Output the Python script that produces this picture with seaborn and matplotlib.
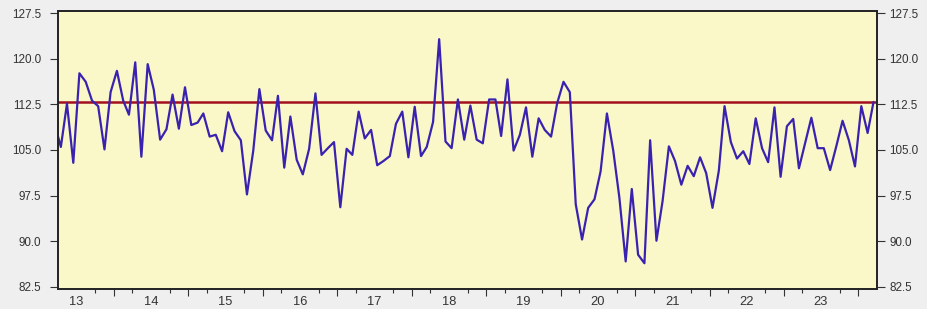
import numpy as np
import pandas as pd
import matplotlib
matplotlib.use("Agg")
import matplotlib.pyplot as plt
import matplotlib.dates as mdates
import seaborn as sns

# monthly index, first value is March 2013 (clipped at the left frame)
values = [
    109.3,
    105.5, 112.6, 102.9, 117.6, 116.2, 113.1, 112.2, 105.1, 114.5, 118.0,
    113.1, 110.8, 119.4, 103.9, 119.1, 114.9, 106.7, 108.4, 114.1, 108.5,
    115.3, 109.1, 109.5, 111.0, 107.2, 107.5, 104.8, 111.2, 108.1, 106.6,
    97.7, 104.9, 115.0, 108.2, 106.6, 113.9, 102.1, 110.5, 103.4, 101.0,
    105.2, 114.3, 104.2, 105.3, 106.3, 95.6, 105.2, 104.2, 111.3, 106.9,
    108.3, 102.5, 103.2, 104.0, 109.3, 111.3, 103.8, 112.1, 104.0, 105.5,
    109.6, 123.2, 106.4, 105.3, 113.3, 106.7, 112.3, 106.7, 106.1, 113.3,
    113.3, 107.3, 116.6, 104.9, 107.5, 112.0, 103.9, 110.2, 108.3, 107.2,
    112.7, 116.2, 114.5, 96.1, 90.3, 95.5, 96.9, 101.5, 111.0, 104.9,
    97.2, 86.7, 98.6, 87.8, 86.4, 106.6, 90.1, 96.6, 105.6, 103.2,
    99.3, 102.4, 100.7, 103.8, 101.2, 95.5, 101.6, 112.2, 106.3, 103.6,
    104.8, 102.7, 110.2, 105.3, 103.0, 112.0, 100.6, 108.9, 110.1, 102.0,
    106.2, 110.3, 105.3, 105.3, 101.7, 105.7, 109.8, 106.6, 102.3, 112.2,
    107.8, 112.9,
]
ref_level = 112.9
years = list(range(2013, 2024))
year_labels = [str(y)[2:] for y in years]
y_ticks = [82.5, 90.0, 97.5, 105.0, 112.5, 120.0, 127.5]

months = pd.date_range("2013-03-01", periods=len(values), freq="MS") + pd.Timedelta(days=14)
df = pd.DataFrame({"x": mdates.date2num(months), "value": values})

sns.set_style("ticks")
plt.rcParams["font.family"] = ["Liberation Sans", "DejaVu Sans"]

fig = plt.figure(figsize=(9.27, 3.09), dpi=100, facecolor="#efefef")
ax = fig.add_axes([58 / 927, 20 / 309, 819 / 927, 278 / 309])
ax.set_facecolor("#faf8c8")

ax.axhline(ref_level, color="#a3101e", lw=1.8, zorder=2)
sns.lineplot(data=df, x="x", y="value", ax=ax, color="#3a22b0", lw=1.6, zorder=3)
ax.set_xlabel("")
ax.set_ylabel("")

# y axis on both sides
ax.set_yticks(y_ticks)
ax.set_yticklabels([f"{t:.1f}" for t in y_ticks])
ax.tick_params(axis="y", length=6, width=0.8, pad=6, labelsize=8.4, colors="#333333")

# x axis: long ticks at year boundaries, short at Apr/Oct, labels mid-year
year_starts = [mdates.date2num(pd.Timestamp(f"{y}-01-01")) for y in range(2014, 2025)]
quarters = [mdates.date2num(pd.Timestamp(f"{y}-{m:02d}-01")) for y in range(2013, 2024) for m in (4, 10)]
ax.set_xticks(year_starts)
ax.set_xticklabels([])
ax.set_xticks(quarters[1:], minor=True)
ax.tick_params(axis="x", which="major", length=5, width=0.8, color="#333333")
ax.tick_params(axis="x", which="minor", length=3, width=0.8, color="#333333")

ax.set_xlim(mdates.date2num(pd.Timestamp("2013-04-01")), mdates.date2num(pd.Timestamp("2024-04-01")))
ax.set_ylim(82.17, 127.83)

ax2 = ax.twinx()
ax2.set_ylim(ax.get_ylim())
ax2.set_yticks(y_ticks)
ax2.set_yticklabels([f"{t:.1f}" for t in y_ticks])
ax2.tick_params(axis="y", length=6, width=0.8, pad=3, labelsize=8.4, colors="#333333")

sec = ax.secondary_xaxis("bottom")
sec.set_xticks([mdates.date2num(pd.Timestamp(f"{y}-07-01")) for y in years])
sec.set_xticklabels(year_labels)
sec.tick_params(length=0, pad=5, labelsize=9.3, colors="#333333")
sec.spines["bottom"].set_visible(False)

for a in (ax, ax2):
    for s in a.spines.values():
        s.set_color("#222222")
        s.set_linewidth(1.2)

fig.savefig("out.png", dpi=100, facecolor=fig.get_facecolor())
